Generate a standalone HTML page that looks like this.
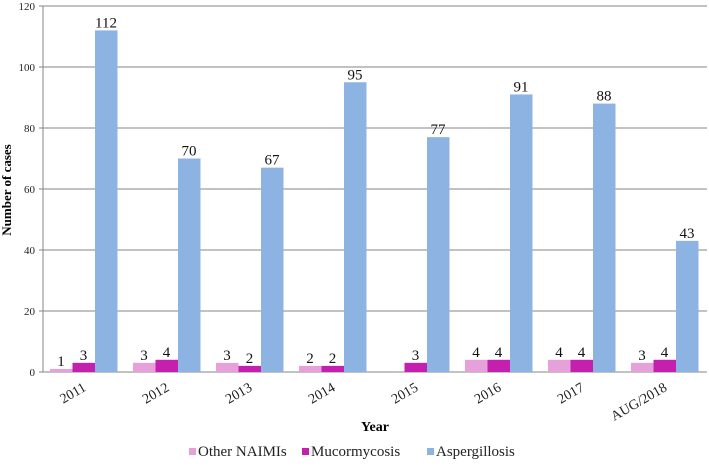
<!DOCTYPE html>
<html><head><meta charset="utf-8"><style>
body{margin:0;background:#fff;}
svg text{font-family:"Liberation Serif",serif !important;}
</style></head><body>
<svg id="c" width="709" height="461"></svg>
<script>
const categories=["2011","2012","2013","2014","2015","2016","2017","AUG/2018"];
const otherVals=[1,3,3,2,0,4,4,3];
const mucorVals=[3,4,2,2,3,4,4,4];
const asperVals=[112,70,67,95,77,91,88,43];
const yTicks=[0,20,40,60,80,100,120];
const seriesNames=["Other NAIMIs","Mucormycosis","Aspergillosis"];
const colors=["#e7a1da","#c41fae","#8db3e2"];
const svg=document.getElementById('c');
const NS="http://www.w3.org/2000/svg";
const x0=43,y0=372,yTop=6,catW=83;
const y=v=>y0-(v/120)*(y0-yTop);
function el(t,a,txt){const e=document.createElementNS(NS,t);for(const k in a)e.setAttribute(k,a[k]);if(txt!==undefined){e.textContent=txt;e.style.fontFamily='"Liberation Serif", serif';}svg.appendChild(e);return e;}
yTicks.forEach(t=>{
 const g=el('line',{x1:x0-4,x2:707,y1:y(t),y2:y(t),stroke:'#868686','stroke-width':1});
 
 
 const l=el('text',{x:x0-8,y:y(t)+4,'text-anchor':'end','font-size':11,fill:'#222'},t);
 
 
});
const ax=el('line',{x1:x0,x2:x0,y1:yTop,y2:y0,stroke:'#868686'});


const series=[otherVals,mucorVals,asperVals];
categories.forEach((c,i)=>{
 const cx=x0+i*catW;
 series.forEach((vals,s)=>{
  const v=vals[i];const bx=cx+7+s*22.5;
  if(v>0){
   const r=el('rect',{x:bx,y:y(v),width:22.5,height:y0-y(v),fill:colors[s]});
   
   
   const t=el('text',{x:bx+11,y:y(v)-3,'text-anchor':'middle','font-size':15,fill:'#111'},v);
   
   
  }
 });
 const lx=cx+44,ly=390;
 const t=el('text',{x:lx,y:ly,'text-anchor':'end','font-size':14,fill:'#222',transform:`rotate(-30 ${lx} ${ly})`},c);
 
 
});
const yt=el('text',{x:0,y:0,'text-anchor':'middle','font-size':13,'font-weight':'bold',transform:'translate(11 190) rotate(-90)'},'Number of cases');


const xt=el('text',{x:375,y:431,'text-anchor':'middle','font-size':14,'font-weight':'bold'},'Year');


const lxs=[189,302,427];
seriesNames.forEach((n,s)=>{
 const r=el('rect',{x:lxs[s],y:448,width:7,height:7,fill:colors[s]});
 
 
 const t=el('text',{x:lxs[s]+9,y:456,'font-size':15,fill:'#222'},n);
 
 
});
</script>
</body></html>
